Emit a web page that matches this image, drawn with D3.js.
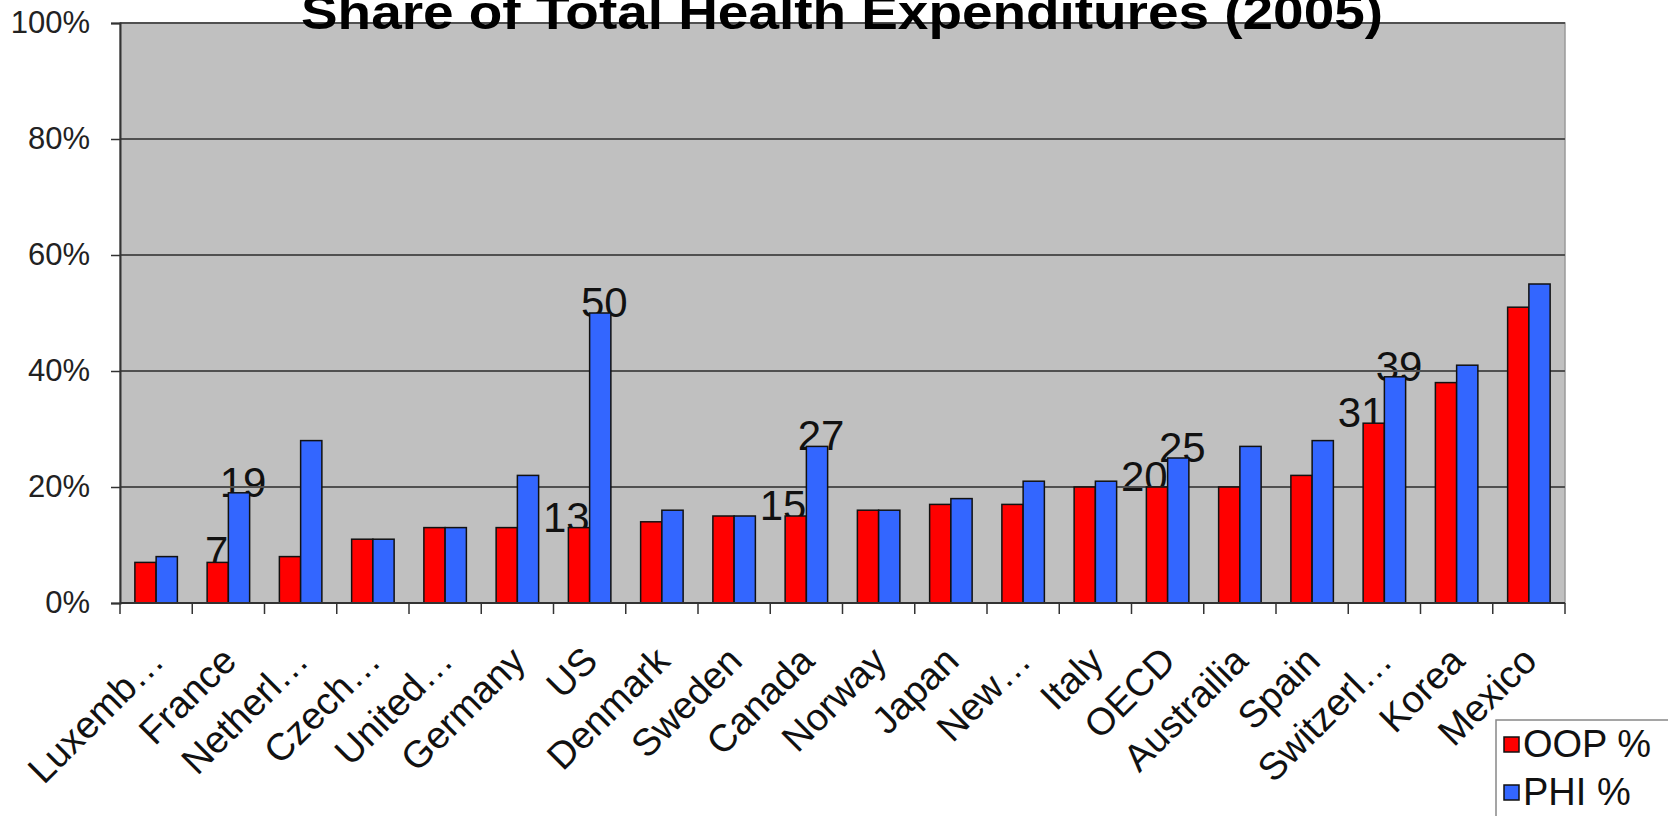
<!DOCTYPE html>
<html>
<head>
<meta charset="utf-8">
<script src="https://cdnjs.cloudflare.com/ajax/libs/d3/7.8.5/d3.min.js"></script>
<style>
  body { margin: 0; background: #fff; }
  text { font-family: "Liberation Sans", Arial, sans-serif; }
</style>
</head>
<body>
<div id="chart"></div>
<script>
// data (percent of total health spending, 2005)
const countries = ["Luxemb\u2026", "France", "Netherl\u2026", "Czech\u2026", "United\u2026", "Germany", "US",
  "Denmark", "Sweden", "Canada", "Norway", "Japan", "New\u2026", "Italy", "OECD", "Austrailia",
  "Spain", "Switzerl\u2026", "Korea", "Mexico"];
const oop = [7, 7, 8, 11, 13, 13, 13, 14, 15, 15, 16, 17, 17, 20, 20, 20, 22, 31, 38, 51];
const phi = [8, 19, 28, 11, 13, 22, 50, 16, 15, 27, 16, 18, 21, 21, 25, 27, 28, 39, 41, 55];
const seriesNames = ["OOP %", "PHI %"];
const seriesColors = ["#ff0000", "#3366ff"];
const labeled = ["France", "US", "Canada", "OECD", "Switzerl\u2026"];
const yTicks = [0, 20, 40, 60, 80, 100];

const svgWidth = 1668, svgHeight = 816;
const margin = { top: 23, right: 103, bottom: 213, left: 120 };
const width = svgWidth - margin.left - margin.right;
const height = svgHeight - margin.top - margin.bottom;

const root = d3.select("#chart").append("svg")
    .attr("width", svgWidth)
    .attr("height", svgHeight);

const svg = root.append("g")
    .attr("transform", "translate(" + margin.left + "," + margin.top + ")");

const x0 = d3.scaleBand().domain(countries).range([0, width]).padding(0);
const x1 = d3.scaleBand().domain(seriesNames).range([0, x0.bandwidth()])
    .paddingInner(0).paddingOuter(0.7);
const y = d3.scaleLinear().domain([0, 100]).range([height, 0]);

// plot area
svg.append("rect")
    .attr("width", width)
    .attr("height", height)
    .attr("fill", "#c0c0c0")
    .attr("stroke", "#9a9a9a")
    .attr("stroke-width", 1.5);

// rows of both series
const rows = countries.map((c, i) => ({ country: c, values: [oop[i], phi[i]] }));

// data labels go behind the bars and gridlines
rows.filter(r => labeled.includes(r.country)).forEach(r => {
    r.values.forEach((v, j) => {
        const bx = x0(r.country) + x1(seriesNames[j]);
        svg.append("text")
            .attr("x", j === 0 ? bx + x1.bandwidth() : bx + x1.bandwidth() / 2 + 4)
            .attr("y", y(v) + 4)
            .attr("text-anchor", j === 0 ? "end" : "middle")
            .style("font-size", "42px")
            .attr("fill", "#111")
            .text(v);
    });
});

// gridlines
svg.selectAll(".grid")
    .data(yTicks.filter(d => d > 0))
    .enter().append("line")
    .attr("x1", 0).attr("x2", width)
    .attr("y1", d => y(d)).attr("y2", d => y(d))
    .attr("stroke", "#505050")
    .attr("stroke-width", 2);

// y axis
const yAxis = svg.append("g")
    .call(d3.axisLeft(y).tickValues(yTicks).tickSize(9).tickPadding(21)
        .tickFormat(d => d + "%"));
yAxis.select(".domain").attr("stroke", "#333").attr("stroke-width", 2);
yAxis.selectAll(".tick line").attr("stroke", "#333").attr("stroke-width", 1.5);
yAxis.selectAll("text")
    .style("font-size", "31px")
    .attr("fill", "#222");

// bars
const groups = svg.selectAll(".group")
    .data(rows)
    .enter().append("g")
    .attr("transform", d => "translate(" + x0(d.country) + ",0)");

groups.selectAll("rect")
    .data(d => d.values.map((v, j) => ({ key: seriesNames[j], value: v, j: j })))
    .enter().append("rect")
    .attr("x", d => x1(d.key))
    .attr("width", x1.bandwidth())
    .attr("y", d => y(d.value))
    .attr("height", d => height - y(d.value))
    .attr("fill", d => seriesColors[d.j])
    .attr("stroke", "#111")
    .attr("stroke-width", 1.5);

// x axis line and ticks at category boundaries
svg.append("line")
    .attr("x1", 0).attr("x2", width)
    .attr("y1", height).attr("y2", height)
    .attr("stroke", "#333").attr("stroke-width", 2);

svg.selectAll(".xtick")
    .data(countries.concat(["_end"]))
    .enter().append("line")
    .attr("x1", d => d === "_end" ? width : x0(d))
    .attr("x2", d => d === "_end" ? width : x0(d))
    .attr("y1", height).attr("y2", height + 11)
    .attr("stroke", "#333").attr("stroke-width", 1.5);

const xAxis = svg.append("g")
    .attr("transform", "translate(0," + height + ")")
    .call(d3.axisBottom(x0).tickSize(0).tickPadding(0));
xAxis.select(".domain").remove();
xAxis.selectAll("text")
    .attr("y", 0)
    .attr("dy", 0)
    .attr("text-anchor", "end")
    .attr("transform", "translate(10,60) rotate(-45)")
    .style("font-size", "38px")
    .attr("fill", "#111");

// title, partly cut off at the top like the original
root.append("text")
    .attr("x", 842)
    .attr("y", 29)
    .attr("text-anchor", "middle")
    .attr("textLength", 1082)
    .attr("lengthAdjust", "spacingAndGlyphs")
    .style("font-size", "48px")
    .style("font-weight", "bold")
    .attr("fill", "#000")
    .text("Share of Total Health Expenditures (2005)");

// legend
const legend = root.append("g").attr("transform", "translate(1496,720)");
legend.append("rect")
    .attr("width", 200).attr("height", 120)
    .attr("fill", "#fff")
    .attr("stroke", "#888").attr("stroke-width", 1.5);

seriesNames.forEach((s, i) => {
    legend.append("rect")
        .attr("x", 8).attr("y", 17 + i * 48)
        .attr("width", 15).attr("height", 15)
        .attr("fill", seriesColors[i])
        .attr("stroke", "#111").attr("stroke-width", 1.5);
    legend.append("text")
        .attr("x", 27).attr("y", 37 + i * 48)
        .style("font-size", "38px")
        .attr("fill", "#111")
        .text(s);
});
</script>
</body>
</html>
